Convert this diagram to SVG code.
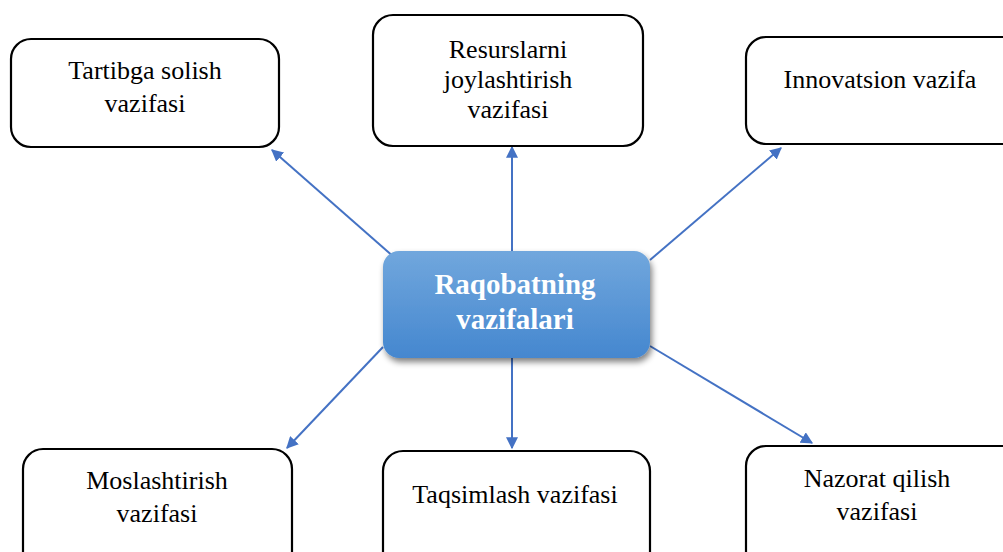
<svg xmlns="http://www.w3.org/2000/svg" width="1003" height="552" viewBox="0 0 1003 552">
<style>
.box{fill:#fff;stroke:#000;stroke-width:2.2}
.t{font-family:"Liberation Serif","Times New Roman",serif;font-size:26px;fill:#000;text-anchor:middle}
.c{font-family:"Liberation Serif","Times New Roman",serif;font-size:29px;font-weight:bold;fill:#fff;text-anchor:middle}
.con{stroke:#4472c4;stroke-width:2;fill:none;marker-end:url(#ah)}
</style>
<defs>
<marker id="ah" viewBox="0 0 10 10" refX="9" refY="5" markerWidth="6" markerHeight="6" orient="auto" markerUnits="strokeWidth">
<path d="M0,0 L10,5 L0,10 z" fill="#4472c4"/>
</marker>
<linearGradient id="g" x1="0" y1="0" x2="0" y2="1">
<stop offset="0" stop-color="#71a7dd"/>
<stop offset="1" stop-color="#4587cf"/>
</linearGradient>
<filter id="sh" x="-20%" y="-20%" width="140%" height="150%">
<feGaussianBlur in="SourceAlpha" stdDeviation="3"/>
<feOffset dx="2" dy="4" result="b"/>
<feComponentTransfer><feFuncA type="linear" slope="0.5"/></feComponentTransfer>
<feMerge><feMergeNode/><feMergeNode in="SourceGraphic"/></feMerge>
</filter>
</defs>
<rect width="1003" height="552" fill="#fff"/>
<g id="connectors">
<line class="con" x1="395" y1="258" x2="272" y2="150"/>
<line class="con" x1="512" y1="251" x2="512" y2="147"/>
<line class="con" x1="650" y1="260" x2="781" y2="148"/>
<line class="con" x1="383" y1="347" x2="287" y2="448"/>
<line class="con" x1="512" y1="358" x2="512" y2="448"/>
<line class="con" x1="650" y1="346" x2="812" y2="443"/>
</g>
<g id="n-tartibga">
<rect class="box" x="11" y="39" width="268" height="108" rx="20"/>
<text class="t" x="145" y="79">Tartibga solish</text>
<text class="t" x="145" y="112">vazifasi</text>
</g>
<g id="n-resurslarni">
<rect class="box" x="373" y="15" width="270" height="131" rx="20"/>
<text class="t" x="508" y="58">Resurslarni</text>
<text class="t" x="508" y="88">joylashtirish</text>
<text class="t" x="508" y="118">vazifasi</text>
</g>
<g id="n-innovatsion">
<rect class="box" x="746" y="37" width="280" height="107" rx="20"/>
<text class="t" x="880" y="88">Innovatsion vazifa</text>
</g>
<g id="n-center">
<rect x="383" y="251" width="267" height="107" rx="16" fill="url(#g)" filter="url(#sh)"/>
<text class="c" x="515" y="294">Raqobatning</text>
<text class="c" x="515" y="329">vazifalari</text>
</g>
<g id="n-moslashtirish">
<rect class="box" x="23" y="449" width="269" height="130" rx="20"/>
<text class="t" x="157" y="489">Moslashtirish</text>
<text class="t" x="157" y="522">vazifasi</text>
</g>
<g id="n-taqsimlash">
<rect class="box" x="383" y="451" width="267" height="130" rx="20"/>
<text class="t" x="515" y="503">Taqsimlash vazifasi</text>
</g>
<g id="n-nazorat">
<rect class="box" x="746" y="446" width="280" height="130" rx="20"/>
<text class="t" x="877" y="487">Nazorat qilish</text>
<text class="t" x="877" y="520">vazifasi</text>
</g>
</svg>
